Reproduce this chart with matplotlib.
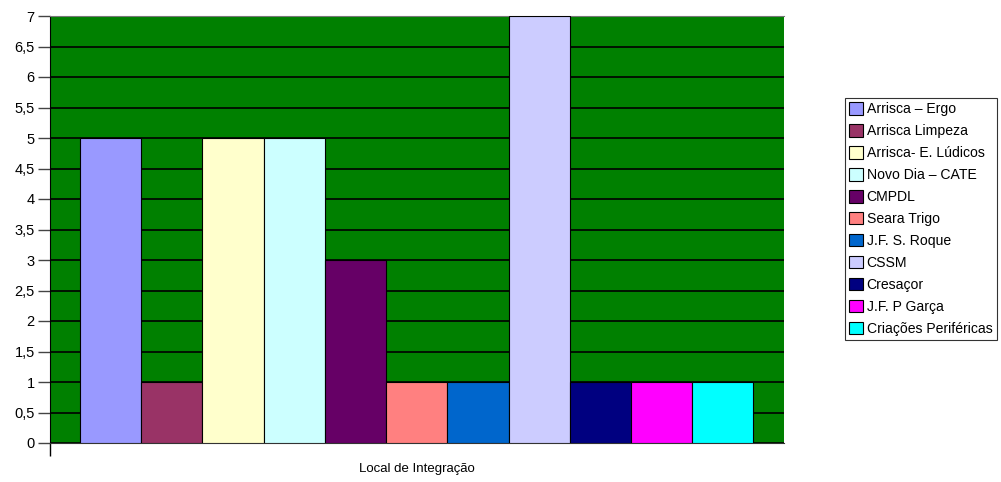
import matplotlib
matplotlib.use("Agg")
import matplotlib.pyplot as plt
from matplotlib.ticker import FuncFormatter, MultipleLocator
import numpy as np

plt.rcParams['font.family'] = ['Liberation Sans', 'DejaVu Sans']

labels = ["Arrisca \u2013 Ergo", "Arrisca Limpeza", "Arrisca- E. L\u00fadicos",
          "Novo Dia \u2013 CATE", "CMPDL", "Seara Trigo", "J.F. S. Roque",
          "CSSM", "Cresa\u00e7or", "J.F. P Gar\u00e7a", "Cria\u00e7\u00f5es Perif\u00e9ricas"]
values = [5, 1, 5, 5, 3, 1, 1, 7, 1, 1, 1]
colors = ["#9999FF", "#993366", "#FFFFCC", "#CCFFFF", "#660066", "#FF8080",
          "#0066CC", "#CCCCFF", "#000080", "#FF00FF", "#00FFFF"]
category = "Local de Integra\u00e7\u00e3o"

fig = plt.figure(figsize=(10.01, 4.82), dpi=100)
ax = fig.add_axes([50 / 1001, 39 / 482, 734 / 1001, 427 / 482])
ax.set_facecolor("#008000")

x = np.arange(len(values))
for i in range(len(values)):
    ax.bar(x[i], values[i], width=1.0, color=colors[i], edgecolor="black",
           linewidth=0.8, label=labels[i], zorder=3)

ax.set_xlim(-0.99, 11.0)
ax.set_ylim(0, 7)
ax.yaxis.set_major_locator(MultipleLocator(0.5))
ax.yaxis.set_major_formatter(FuncFormatter(lambda v, p: ("%g" % v).replace(".", ",")))
ax.grid(axis="y", color="black", linewidth=1.2, zorder=1)
ax.set_axisbelow(True)

ax.set_xticks([-0.99])
ax.set_xticklabels([""])
ax.tick_params(axis="x", direction="out", length=9, width=1, color="black")
ax.tick_params(axis="y", direction="out", length=9, width=1, color="#444444",
               labelsize=10.5, pad=2)
fig.text(417 / 1001, 1 - 469 / 482, category, fontsize=9.5, ha="center", va="center")

ax.spines["right"].set_visible(False)
ax.spines["top"].set_color("#777777")
ax.spines["left"].set_color("black")
ax.spines["bottom"].set_color("#333333")

leg = fig.legend(loc="upper left", bbox_to_anchor=(845 / 1001, 1 - 98 / 482),
                 fontsize=10.1, frameon=True, fancybox=False, edgecolor="black",
                 handlelength=1.0, handleheight=1.0, handletextpad=0.25,
                 labelspacing=0.56, borderpad=0.3, borderaxespad=0)
leg.get_frame().set_linewidth(0.8)

fig.savefig("out.png", dpi=100)
